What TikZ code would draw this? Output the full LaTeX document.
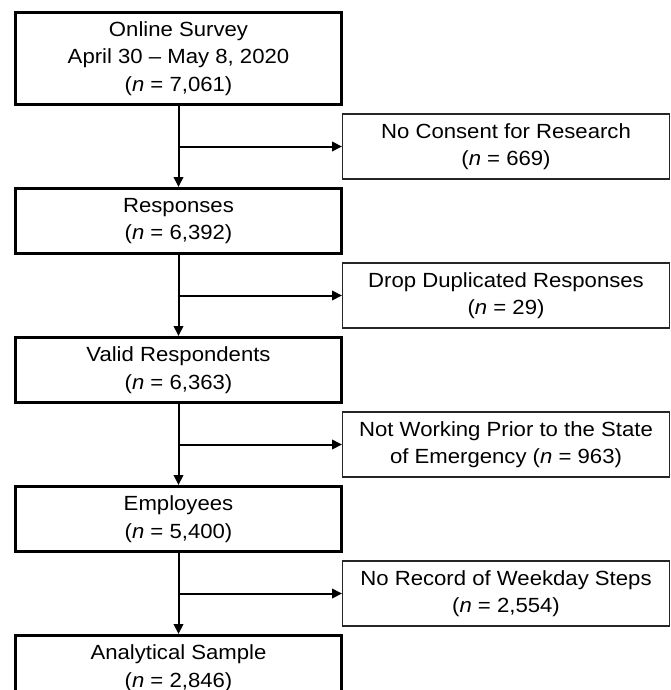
\documentclass[tikz,border=0pt]{standalone}
\usepackage{fontspec}
\setmainfont{Liberation Sans}[FakeStretch=1.08]
\usepackage{tikz}
\usetikzlibrary{arrows.meta,positioning}

\begin{document}
\begin{tikzpicture}[x=1pt, y=1pt,
  box/.style={draw, line width=3pt, minimum width=326pt, minimum height=65pt,
              align=center, inner sep=2pt, font=\fontsize{20.5}{27.5}\selectfont},
  sbox/.style={draw=black!85, line width=1.2pt, minimum width=326.8pt, minimum height=65pt,
               align=center, inner sep=2pt, font=\fontsize{20.5}{27.5}\selectfont},
  arr/.style={-{Triangle[length=10pt, width=9.5pt]}, line width=2pt}
]
  \useasboundingbox (0,0) rectangle (670,-690);

  \node[box, minimum height=92pt] (survey) at (178.5,-58.5)
    {Online Survey\\April 30 – May 8, 2020\\(\textit{n} = 7,061)};
  \node[box, below=81pt of survey] (resp)   {Responses\\(\textit{n} = 6,392)};
  \node[box, below=81pt of resp]   (valid)  {Valid Respondents\\(\textit{n} = 6,363)};
  \node[box, below=81pt of valid]  (empl)   {Employees\\(\textit{n} = 5,400)};
  \node[box, below=81pt of empl]   (sample) {Analytical Sample\\(\textit{n} = 2,846)};

  \path (survey.south) -- (resp.north)   coordinate[midway] (b1);
  \path (resp.south)   -- (valid.north)  coordinate[midway] (b2);
  \path (valid.south)  -- (empl.north)   coordinate[midway] (b3);
  \path (empl.south)   -- (sample.north) coordinate[midway] (b4);

  \node[sbox, right=163.5pt of b1] (noconsent) {No Consent for Research\\(\textit{n} = 669)};
  \node[sbox, right=163.5pt of b2] (dup)       {Drop Duplicated Responses\\(\textit{n} = 29)};
  \node[sbox, right=163.5pt of b3] (notwork)   {Not Working Prior to the State\\of Emergency (\textit{n} = 963)};
  \node[sbox, right=163.5pt of b4] (nosteps)   {No Record of Weekday Steps\\(\textit{n} = 2,554)};

  \draw[arr] (survey) -- (resp);
  \draw[arr] (resp)   -- (valid);
  \draw[arr] (valid)  -- (empl);
  \draw[arr] (empl)   -- (sample);
  \draw[arr] (b1) -- (noconsent);
  \draw[arr] (b2) -- (dup);
  \draw[arr] (b3) -- (notwork);
  \draw[arr] (b4) -- (nosteps);
\end{tikzpicture}
\end{document}
